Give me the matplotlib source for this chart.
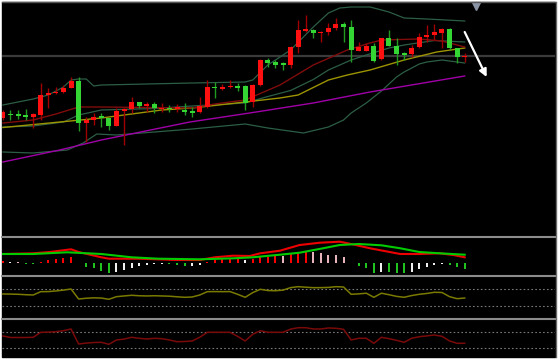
import matplotlib
matplotlib.use('Agg')
import matplotlib.pyplot as plt
import numpy as np
from matplotlib.lines import Line2D
from matplotlib.patches import Rectangle

# ---------------- data (price units, arbitrary scale) ----------------
opens = [132, 136.5, 135.7, 135, 132.7, 135, 155, 156.7, 157.7, 162.3,
         169.3, 126.7, 130, 134, 131.7, 124.3, 139.3, 141, 147.7, 144.3,
         145.7, 141, 142.3, 140.7, 140, 139, 138, 143.3, 163.3, 161.3,
         162.7, 164, 164, 148.3, 165, 190, 188, 186.7, 185, 203.3,
         219, 220, 216.7, 217.7, 221.7, 225.7, 223.3, 199.3, 199.3, 204.3,
         190.7, 211.7, 204.3, 196.7, 196, 202.7, 212.7, 215, 217.3, 220.7,
         202.3, 193]
highs = [140, 140, 140, 141, 137, 166.7, 161.7, 163.3, 165, 173.3,
         172.7, 133.3, 136.7, 137, 132, 141.7, 142, 153.3, 148.3, 148.3,
         148.3, 147.3, 145, 146, 147.3, 142.7, 153.3, 170, 168.3, 166,
         170, 166.7, 165, 166, 191, 191.7, 190, 188.3, 204, 230,
         235, 221, 219, 226.7, 231.7, 228.3, 230, 208.3, 206.7, 206.7,
         212, 220, 211.7, 198.3, 205, 216.7, 225, 226, 221.7, 221.7,
         202.5, 197]
lows = [130, 130, 131, 130, 121.7, 130, 142, 156, 157, 162,
        119.3, 108.3, 125, 123, 120, 124, 105, 136.7, 141.7, 138.3,
        137.3, 138.3, 138.3, 138.3, 135, 132.7, 137, 142, 151.7, 160,
        161.7, 159.3, 140, 143.3, 164, 183.3, 181.7, 180, 181.7, 196.7,
        218, 211.7, 208, 215, 220, 208.3, 188.3, 199, 199, 188.3,
        190, 204, 185, 190, 192.7, 202, 208.3, 210, 201.7, 200,
        187.3, 188.3]
closes = [138, 135, 134.3, 132.7, 136, 155, 156.7, 158.3, 162, 169.3,
          127.3, 130, 133.3, 132, 124.3, 139.3, 141, 147.7, 144, 145.7,
          141.7, 142.3, 140.7, 142.7, 138.3, 137.3, 144, 163.3, 161.7, 163.3,
          164.3, 162.3, 146.7, 165, 190, 186.7, 185, 184.7, 203.3, 220,
          221, 216.7, 218.3, 221.7, 225.7, 223.3, 200, 203.3, 204.3, 189,
          211.7, 204.3, 196, 194.7, 202.3, 212.7, 215.3, 218, 220.7, 202.3,
          193.3, 194]

# Bollinger bands and moving averages (vertices at candle index)
bb_up_idx = [0, 4, 6, 8, 9, 10, 11, 12, 13, 25, 32, 33, 35, 38, 41, 43, 44.5, 46, 48.5, 51, 53, 56, 61]
bb_up_val = [145, 151, 155, 163, 170, 171, 171, 164, 165, 167, 168, 170, 185, 200, 223, 237, 242, 243, 243, 238, 232, 231, 229]
bb_mid_idx = [0, 4, 8, 10, 13, 20, 25, 32, 35, 38, 41, 43, 46, 48, 51, 53, 57, 61]
bb_mid_val = [123, 124, 128, 135, 140, 141.5, 144, 147, 153.5, 159.5, 170.5, 180, 190, 195, 202, 205, 209.5, 208]
bb_lo_idx = [0, 4, 8.5, 10.6, 12.4, 15, 25, 32, 35, 39.7, 43, 45, 46, 47, 48, 49, 50, 51, 52, 53, 54, 55, 56, 57, 58, 59, 60, 61]
bb_lo_val = [98, 97, 100, 107, 116, 115, 121, 126, 122, 117, 123, 130, 137, 142, 147, 153, 159, 166, 173, 178, 182, 186, 188, 189, 190, 189, 188, 187]
ma_red_idx = [0, 4, 7, 10, 13, 25, 28, 32, 36.6, 41, 45.5, 48.5, 50, 55, 58, 61]
ma_red_val = [127, 130, 136, 143, 143, 142, 146, 150, 165, 185, 200, 207, 210, 211, 209, 203]
ma_yel_idx = [0, 13, 21, 25, 32, 36.6, 39, 43, 45.5, 48.5, 53, 57.3, 61]
ma_yel_val = [122.5, 132, 140, 142, 148, 152, 155, 170, 175, 180, 190, 198, 202]
ma_mag_idx = [0, 7.5, 13, 24.7, 32.6, 41, 48.5, 61]
ma_mag_val = [88, 100, 110, 128, 137, 147, 158, 174]
level_price = 194.3
arrow_start = (61.0, 218)
arrow_end = (63.9, 173)

# MACD
macd_hist = [2.3, 1.3, 1.0, -1.0, -1.0, 1.3, 3.0, 4.0, 5.0, 6.0,
             0.5, -3.7, -5.3, -7.7, -9.7, -8.7, -7.0, -4.7, -2.7, -1.7,
             -1.3, -1.3, -1.0, -2.0, -2.7, -2.7, -2.3, 0.7, 3.0, 3.7,
             4.3, 4.3, 3.0, 3.7, 5.7, 6.3, 7.0, 7.0, 8.7, 10.3,
             11.0, 11.0, 9.7, 8.3, 7.7, 5.7, 0.3, -3.0, -5.3, -9.7,
             -9.3, -9.3, -9.7, -9.7, -8.7, -6.3, -3.7, -2.0, -0.7, -2.3,
             -4.3, -5.7]
hist_state = list("rwpggrrrrrwggggwwwwwwwgggwwrrrrrwrrrrprrrpppppwgggwgggwwwwwggg")
macd_red_idx = [0, 4, 6.2, 9, 10, 13, 14, 18, 23, 26, 28, 30.4, 32.6, 34, 36.6, 39.2, 41.9, 44.5, 46, 48.5, 52.5, 55, 57.7, 59.5, 61]
macd_red_val = [9.0, 9.7, 11.0, 13.7, 11.0, 5.7, 4.3, 4.3, 3.0, 3.0, 5.7, 7.3, 7.0, 9.7, 12.3, 18.0, 20.3, 21.3, 19.0, 14.7, 9.0, 9.0, 9.7, 8.0, 5.7]
macd_grn_idx = [0, 4, 8.5, 13, 17, 20.5, 26, 30.5, 33, 36.6, 39.2, 42, 44.5, 47, 50, 52.5, 55, 57.7, 61]
macd_grn_val = [9.0, 9.0, 10.7, 9.0, 5.7, 4.3, 3.7, 4.7, 5.7, 8.3, 10.3, 14.3, 18.0, 19.0, 17.7, 14.7, 11.0, 9.7, 8.3]

# Oscillators (0-100, levels 70 / 30)
osc_yellow = [58.7, 58.5, 58, 57, 56.3, 64.3, 64.5, 66, 68, 70.7,
              46.7, 48.5, 49.5, 49, 46, 52.3, 54, 55.6, 54.5, 54,
              54.5, 54, 53.4, 52, 50.8, 51.5, 56.3, 64.3, 64.5, 64.3,
              64.5, 58, 50.8, 62, 70, 67, 66.5, 68, 74, 76.3,
              75, 73.9, 74, 74.5, 76.3, 75.5, 58, 59, 60.6, 50.8,
              60.6, 57, 53, 50.8, 55, 58, 60, 62.8, 62.3, 52.3,
              47.5, 49]
osc_red = [60.8, 57, 57, 57, 57.5, 70, 70.5, 71.5, 74, 78.3,
           40.8, 43, 44.5, 45, 40, 50.8, 53, 57.5, 55, 53.3,
           55, 54, 50.8, 46.5, 47, 48.3, 57.5, 70, 70, 70,
           70, 60, 48.3, 65, 74, 70, 70, 70, 78, 81.5,
           81.5, 78.3, 78.3, 80.8, 80, 77.5, 50.8, 55, 55, 42.5,
           57.5, 54, 50, 45, 55, 59, 61, 63.3, 60, 48.3,
           42.5, 42.5]
osc_levels = [70, 30]

# ---------------- figure ----------------
W, H = 558, 361
fig = plt.figure(figsize=(W / 100, H / 100), dpi=100, facecolor='white')
fig.add_artist(Rectangle((2 / W, 1 - 357 / H), 553 / W, 355 / H,
                         transform=fig.transFigure, color='black', zorder=0))

XLIM = (-0.12, 72.93)


def px_axes(l, t, r, b):
    ax = fig.add_axes([l / W, 1 - b / H, (r - l) / W, (b - t) / H])
    ax.set_axis_off()
    ax.set_xlim(*XLIM)
    return ax


def fig_hline(y, x0, x1, color, lw):
    fig.add_artist(Line2D([x0 / W, x1 / W], [1 - y / H, 1 - y / H],
                          transform=fig.transFigure, color=color, lw=lw))


idx = np.arange(len(opens))
o = np.array(opens); c = np.array(closes)
hi = np.array(highs); lo = np.array(lows)
up = c >= o

# main price panel
ax = px_axes(2, 4, 555, 235)
ax.set_ylim(15, 246)
ax.axhline(level_price, color='#3a3a3a', lw=1.6, zorder=1)
lw_band = 0.9
ax.plot(bb_up_idx, bb_up_val, color='#2c5e46', lw=lw_band, zorder=2)
ax.plot(bb_mid_idx, bb_mid_val, color='#2c5e46', lw=lw_band, zorder=2)
ax.plot(bb_lo_idx, bb_lo_val, color='#2c5e46', lw=lw_band, zorder=2)
ax.plot(ma_mag_idx, ma_mag_val, color='#a000a8', lw=1.0, zorder=2)
ax.plot(ma_yel_idx, ma_yel_val, color='#9c9400', lw=1.0, zorder=2)
ax.plot(ma_red_idx, ma_red_val, color='#800c0c', lw=1.0, zorder=2)

wick_cols = np.where(up, '#a00000', '#229a22')
body_cols = np.where(up, '#ff1010', '#33d633')
ax.vlines(idx, lo, hi, colors=wick_cols, lw=1.0, zorder=3)
body_h = np.maximum(np.abs(c - o), 1.2)
body_b = np.minimum(o, c)
ax.bar(idx, body_h, bottom=body_b, width=0.66, color=body_cols, lw=0, zorder=4)

ax.annotate('', xy=arrow_end, xytext=arrow_start,
            arrowprops=dict(arrowstyle='-|>', color='white', lw=1.6,
                            mutation_scale=11, shrinkA=0, shrinkB=0), zorder=5)
ax.plot([0.857], [0.992], marker='v', color='#8a93a3', ms=6,
        transform=ax.transAxes, clip_on=False, zorder=6)

# MACD panel
axm = px_axes(2, 238, 555, 274)
axm.set_ylim(-11, 25)
state_col = {'r': '#ff0000', 'g': '#1fc21f', 'w': '#f0f0f0', 'p': '#e8b4bc'}
axm.bar(idx, macd_hist, width=0.26, color=[state_col[s] for s in hist_state], lw=0)
axm.plot(macd_red_idx, macd_red_val, color='#ee0000', lw=1.5)
axm.plot(macd_grn_idx, macd_grn_val, color='#00cc00', lw=1.5)

# oscillator 1
ax1 = px_axes(2, 277, 555, 317)
ax1.set_ylim(3.5, 99.5)
for lv in osc_levels:
    ax1.axhline(lv, color='#787878', lw=0.8, linestyle=(0, (1.5, 2)))
ax1.plot(idx, osc_yellow, color='#7a7a00', lw=1.1)

# oscillator 2
ax2 = px_axes(2, 320, 555, 357)
ax2.set_ylim(8.25, 100.75)
for lv in osc_levels:
    ax2.axhline(lv, color='#787878', lw=0.8, linestyle=(0, (1.5, 2)))
ax2.plot(idx, osc_red, color='#7a0a0a', lw=1.1)

# frame / separators
fig_hline(2, 2, 555, '#555555', 1.0)
for ysep in (236.5, 275.5, 318.5):
    fig_hline(ysep, 2, 555, '#8c8c8c', 1.5)
fig.add_artist(Line2D([555.5 / W, 555.5 / W], [1 - 2 / H, 1 - 357 / H],
                      transform=fig.transFigure, color='#6a6a6a', lw=1.0))

fig.savefig('out.png', dpi=100, facecolor='white')
